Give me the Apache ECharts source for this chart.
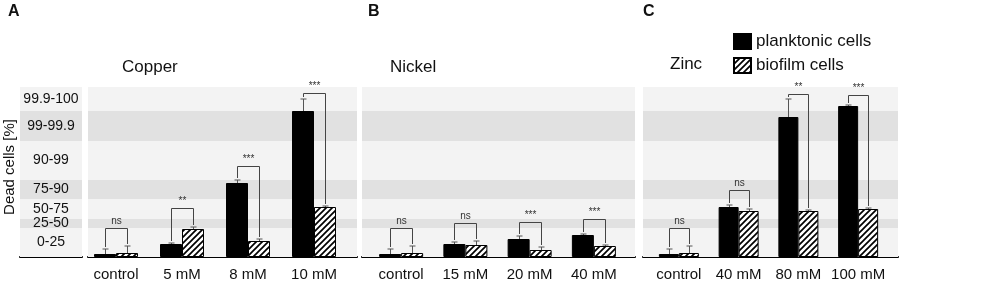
<!DOCTYPE html>
<html>
<head>
<meta charset="utf-8">
<script src="https://cdn.jsdelivr.net/npm/echarts@6/dist/echarts.min.js"></script>
<style>
  html, body { margin: 0; padding: 0; background: #fff; }
  #chart { width: 1000px; height: 283px; }
</style>
</head>
<body>
<div id="chart"></div>
<script>
// y axis is a stretched (non-linear) scale: band edges in axis units
const bandEdges = [0, 29, 38, 58, 77, 116, 146, 170];
const bandLabels = ["0-25", "25-50", "50-75", "75-90", "90-99", "99-99.9", "99.9-100"];

// ====== Copper ======
const copperCats = ["control", "5 mM", "8 mM", "10 mM"];
const copperPlank = [3, 13, 74, 146];
const copperPlankErr = [5, 1, 3, 12];
const copperBio = [4, 28, 16, 50];
const copperBioErr = [7, 2, 2, 1];
const copperSig = ["ns", "**", "***", "***"];
const copperBracket = [29, 49, 91, 164];

// ====== Nickel ======
const nickelCats = ["control", "15 mM", "20 mM", "40 mM"];
const nickelPlank = [3, 13, 18, 22];
const nickelPlankErr = [5, 2, 3, 1];
const nickelBio = [4, 12, 7, 11];
const nickelBioErr = [7, 4, 3, 1];
const nickelSig = ["ns", "ns", "***", "***"];
const nickelBracket = [29, 34, 35, 38];

// ====== Zinc ======
const zincCats = ["control", "40 mM", "80 mM", "100 mM"];
const zincPlank = [3, 50, 140, 151];
const zincPlankErr = [5, 2, 18, 1];
const zincBio = [4, 46, 46, 48];
const zincBioErr = [7, 2, 1, 1];
const zincSig = ["ns", "ns", "**", "***"];
const zincBracket = [29, 67, 163, 162];

const FONT = "'Liberation Sans', Arial, sans-serif";
const LIGHT = "#f3f3f3";
const DARK = "#e1e1e1";

// hatch pattern for biofilm bars
const hatch = document.createElement("canvas");
hatch.width = 6;
hatch.height = 6;
(() => {
  const ctx = hatch.getContext("2d");
  ctx.fillStyle = "#fff";
  ctx.fillRect(0, 0, 6, 6);
  ctx.strokeStyle = "#000";
  ctx.lineWidth = 1.7;
  ctx.beginPath();
  ctx.moveTo(-1, 7); ctx.lineTo(7, -1);
  ctx.moveTo(-1, 1); ctx.lineTo(1, -1);
  ctx.moveTo(5, 7); ctx.lineTo(7, 5);
  ctx.stroke();
})();
const hatchFill = { image: hatch, repeat: "repeat" };

const panels = [
  { cats: copperCats, plank: copperPlank, plankErr: copperPlankErr, bio: copperBio, bioErr: copperBioErr,
    sig: copperSig, bracket: copperBracket, bg: [88, 269], bars: [83, 264], bw: 22 },
  { cats: nickelCats, plank: nickelPlank, plankErr: nickelPlankErr, bio: nickelBio, bioErr: nickelBioErr,
    sig: nickelSig, bracket: nickelBracket, bg: [362, 273], bars: [369, 257], bw: 22 },
  { cats: zincCats, plank: zincPlank, plankErr: zincPlankErr, bio: zincBio, bioErr: zincBioErr,
    sig: zincSig, bracket: zincBracket, bg: [643, 255], bars: [649, 239], bw: 20 },
];

const TOP = 87, HEIGHT = 170;
const grid = [{ left: 20, width: 62, top: TOP, height: HEIGHT }];
const xAxis = [];
const yAxis = [];
const series = [];

function bandData(withLabels) {
  const out = [];
  for (let i = 0; i < bandLabels.length; i++) {
    out.push([
      { name: withLabels ? bandLabels[i] : "", yAxis: bandEdges[i], itemStyle: { color: i % 2 ? DARK : LIGHT } },
      { yAxis: bandEdges[i + 1] },
    ]);
  }
  return out;
}

function bgAxes(idx) {
  xAxis.push({
    gridIndex: idx, type: "value", min: 0, max: 1,
    axisLine: { show: true, onZero: false, lineStyle: { color: "#000", width: 2 } },
    axisTick: { show: false }, axisLabel: { show: false }, splitLine: { show: false },
  });
  yAxis.push({ gridIndex: idx, type: "value", min: 0, max: bandEdges[bandEdges.length - 1], show: false });
}

// label column + panel backgrounds
bgAxes(0);
series.push({
  type: "line", data: [], xAxisIndex: 0, yAxisIndex: 0, z: 1, silent: true,
  markArea: {
    silent: true,
    label: { show: true, position: "inside", color: "#111", fontSize: 14, fontFamily: FONT },
    data: bandData(true),
  },
});
panels.forEach((p, k) => {
  const idx = grid.length;
  grid.push({ left: p.bg[0], width: p.bg[1], top: TOP, height: HEIGHT });
  bgAxes(idx);
  series.push({
    type: "line", data: [], xAxisIndex: idx, yAxisIndex: idx, z: 1, silent: true,
    markArea: { silent: true, label: { show: false }, data: bandData(false) },
  });
});

// bar grids
panels.forEach((p, k) => {
  const idx = grid.length;
  grid.push({ left: p.bars[0], width: p.bars[1], top: TOP, height: HEIGHT });
  xAxis.push({
    gridIndex: idx, type: "category", data: p.cats,
    axisLine: { show: false }, axisTick: { show: false },
    axisLabel: { interval: 0, color: "#111", fontSize: 15, fontFamily: FONT, margin: 10 },
  });
  yAxis.push({ gridIndex: idx, type: "value", min: 0, max: bandEdges[bandEdges.length - 1], show: false });

  series.push({
    name: "planktonic cells", type: "bar", xAxisIndex: idx, yAxisIndex: idx, z: 3,
    barWidth: p.bw, barGap: "0%", data: p.plank,
    itemStyle: { color: "#000", borderColor: "#000", borderWidth: 1 },
  });
  series.push({
    name: "biofilm cells", type: "bar", xAxisIndex: idx, yAxisIndex: idx, z: 3,
    barWidth: p.bw, barGap: "0%", data: p.bio,
    itemStyle: { color: hatchFill, borderColor: "#000", borderWidth: 1 },
  });

  // error bars (upper only)
  const errData = [];
  p.cats.forEach((c, i) => {
    errData.push([i, p.plank[i], p.plankErr[i], -1]);
    errData.push([i, p.bio[i], p.bioErr[i], 1]);
  });
  series.push({
    type: "custom", xAxisIndex: idx, yAxisIndex: idx, z: 4, silent: true, data: errData,
    renderItem: (params, api) => {
      const base = api.coord([api.value(0), api.value(1)]);
      const top = api.coord([api.value(0), api.value(1) + api.value(2)]);
      const x = Math.round(base[0] + api.value(3) * p.bw / 2) + 0.5;
      const st = { stroke: "#555", lineWidth: 1 };
      return {
        type: "group",
        children: [
          { type: "line", shape: { x1: x, y1: base[1], x2: x, y2: top[1] }, style: st },
          { type: "line", shape: { x1: x - 3, y1: top[1], x2: x + 3, y2: top[1] }, style: st },
        ],
      };
    },
  });

  // significance brackets
  const brData = p.cats.map((c, i) => [i, p.plank[i] + p.plankErr[i] + 2, p.bio[i] + p.bioErr[i] + 2, p.bracket[i]]);
  series.push({
    type: "custom", xAxisIndex: idx, yAxisIndex: idx, z: 5, silent: true, data: brData,
    renderItem: (params, api) => {
      const i = api.value(0);
      const l = api.coord([i, api.value(1)]);
      const r = api.coord([i, api.value(2)]);
      const t = api.coord([i, api.value(3)]);
      const xl = Math.round(l[0] - p.bw / 2) + 0.5;
      const xr = Math.round(l[0] + p.bw / 2) + 0.5;
      const yt = Math.round(t[1]) + 0.5;
      return {
        type: "group",
        children: [
          {
            type: "polyline",
            shape: { points: [[xl, l[1]], [xl, yt], [xr, yt], [xr, r[1]]] },
            style: { stroke: "#444", lineWidth: 1, fill: null },
          },
          {
            type: "text", x: (xl + xr) / 2, y: yt - 2,
            style: {
              text: p.sig[params.dataIndex], align: "center", verticalAlign: "bottom",
              fontSize: 10, fontFamily: FONT, fill: "#333",
            },
          },
        ],
      };
    },
  });
});

const txt = (text, x, y, size, extra) => ({
  type: "text", x, y,
  style: Object.assign({ text, fontSize: size, fontFamily: FONT, fill: "#111", align: "left", verticalAlign: "middle" }, extra || {}),
});

const option = {
  animation: false,
  grid,
  xAxis,
  yAxis,
  series,
  legend: {
    orient: "vertical", left: 728, top: 28, itemWidth: 17, itemHeight: 15, itemGap: 7,
    icon: "rect", selectedMode: false,
    data: ["planktonic cells", "biofilm cells"],
    textStyle: { color: "#111", fontSize: 17, fontFamily: FONT },
  },
  graphic: [
    txt("A", 8, 12, 16, { fontWeight: "bold" }),
    txt("B", 368, 12, 16, { fontWeight: "bold" }),
    txt("C", 643, 12, 16, { fontWeight: "bold" }),
    txt("Copper", 122, 67, 17),
    txt("Nickel", 390, 67, 17),
    txt("Zinc", 670, 64, 17),
    Object.assign(txt("Dead cells [%]", 10, 167, 15, { align: "center" }), { rotation: Math.PI / 2 }),
  ],
};

const chart = echarts.init(document.getElementById("chart"), null, { renderer: "canvas" });
chart.setOption(option);
</script>
</body>
</html>
